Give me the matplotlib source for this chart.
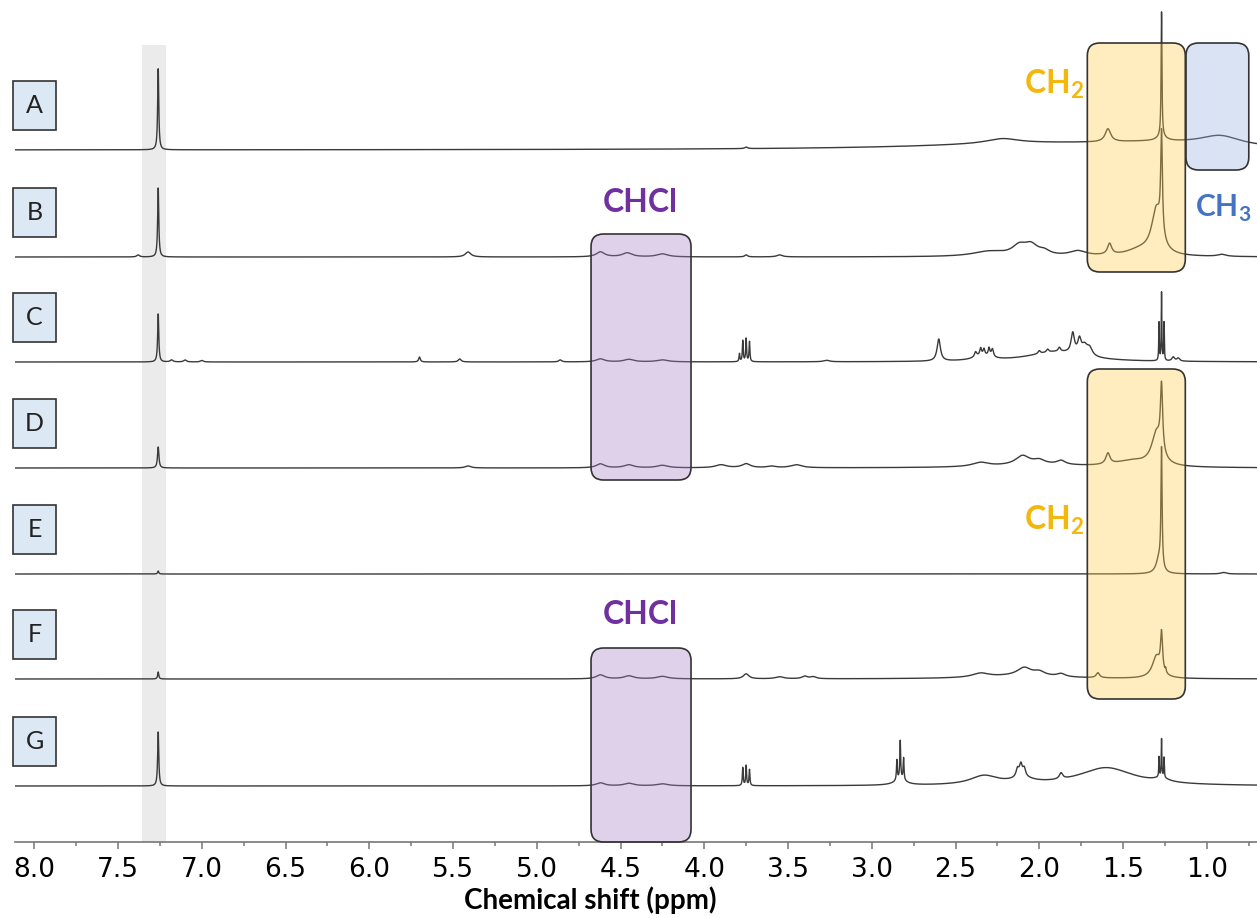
import numpy as np
import matplotlib
matplotlib.use("Agg")
import matplotlib.pyplot as plt
import matplotlib.transforms as mtransforms
from matplotlib.patches import FancyBboxPatch, Rectangle
from matplotlib.ticker import MultipleLocator

plt.rcParams["mathtext.fontset"] = "custom"
plt.rcParams["mathtext.bf"] = "Lato:bold"
plt.rcParams["mathtext.rm"] = "Lato"

# sample labels, top to bottom
samples = ["A", "B", "C", "D", "E", "F", "G"]

# peak lists: (shift ppm, height, half-width ppm)
peaks_A = [(7.26, 81, 0.004), (3.75, 1.5, 0.01), (2.0, 6, 0.9), (2.22, 5, 0.12),
           (1.59, 13, 0.02), (1.27, 124, 0.003), (1.27, 5, 0.03),
           (1.3, 4, 0.4), (0.92, 10, 0.15)]
peaks_B = [(7.26, 69, 0.004), (7.38, 2, 0.01), (5.41, 5, 0.02),
           (4.62, 5, 0.03), (4.46, 4, 0.035), (4.25, 3, 0.04),
           (3.75, 2, 0.01), (3.55, 2, 0.02),
           (2.30, 5, 0.12), (2.12, 9, 0.05), (2.05, 10, 0.05), (1.97, 4, 0.04), (1.77, 5, 0.06),
           (1.58, 11, 0.015), (1.40, 6, 0.1), (1.30, 45, 0.035), (1.27, 100, 0.006),
           (0.91, 2, 0.03)]
peaks_C = [(7.26, 48, 0.004), (7.18, 2, 0.01), (7.10, 2, 0.01), (7.00, 1.5, 0.01),
           (5.70, 5, 0.006), (5.46, 3, 0.01), (4.86, 2, 0.01),
           (4.62, 3, 0.03), (4.45, 2.5, 0.035), (4.25, 2, 0.04),
           (3.79, 8, 0.003), (3.77, 21, 0.003), (3.75, 23, 0.003), (3.73, 20, 0.003),
           (3.27, 1.5, 0.02), (2.60, 22, 0.012),
           (2.34, 5, 0.06), (2.38, 5, 0.008), (2.35, 7, 0.006), (2.33, 6, 0.006),
           (2.30, 8, 0.006), (2.28, 8, 0.008),
           (1.90, 10, 0.2), (2.00, 3, 0.008), (1.95, 3, 0.008), (1.88, 4, 0.008),
           (1.80, 20, 0.012), (1.76, 14, 0.012), (1.73, 9, 0.02), (1.70, 8, 0.02),
           (1.285, 38, 0.002), (1.27, 68, 0.002), (1.255, 38, 0.002),
           (1.20, 4, 0.01), (1.17, 3, 0.01)]
peaks_D = [(7.26, 21, 0.005), (5.41, 2, 0.02),
           (4.62, 4, 0.03), (4.45, 3, 0.035), (4.25, 2.5, 0.04),
           (3.90, 3, 0.04), (3.75, 4, 0.03), (3.60, 1.5, 0.03), (3.45, 3, 0.04),
           (2.0, 3, 0.3), (2.35, 4, 0.06), (2.10, 9, 0.05), (2.00, 4, 0.04), (1.87, 4, 0.03),
           (1.59, 11, 0.015), (1.45, 6, 0.12), (1.30, 32, 0.035), (1.27, 66, 0.008)]
peaks_E = [(7.26, 3, 0.004), (1.285, 15, 0.02), (1.27, 118, 0.004), (0.9, 1.5, 0.02)]
peaks_F = [(7.26, 7, 0.004),
           (4.62, 4, 0.03), (4.45, 3, 0.035), (4.25, 2.5, 0.04),
           (3.75, 5, 0.02), (3.55, 2, 0.03), (3.40, 2.5, 0.02), (3.35, 2, 0.02),
           (2.1, 3, 0.3), (2.35, 4, 0.06), (2.09, 8, 0.05), (2.00, 4, 0.04), (1.87, 3, 0.03),
           (1.65, 5, 0.012), (1.30, 22, 0.03), (1.27, 38, 0.007), (1.245, 4, 0.003)]
peaks_G = [(7.26, 54, 0.004),
           (4.62, 3, 0.03), (4.45, 2.5, 0.035), (4.25, 2, 0.04),
           (3.77, 18, 0.003), (3.75, 20, 0.003), (3.73, 16, 0.003),
           (2.83, 6, 0.04), (2.85, 20, 0.003), (2.83, 38, 0.003), (2.81, 22, 0.003),
           (2.33, 9, 0.1), (2.10, 5, 0.08), (2.13, 8, 0.01), (2.11, 12, 0.01), (2.09, 8, 0.01),
           (1.87, 6, 0.012), (1.60, 18, 0.2),
           (1.27, 4, 0.05), (1.285, 20, 0.002), (1.27, 38, 0.002), (1.255, 20, 0.002)]
spectra = [peaks_A, peaks_B, peaks_C, peaks_D, peaks_E, peaks_F, peaks_G]

# vertical offset of each trace (stack layout)
offsets = [692, 585, 480, 374, 268, 163, 56]

ppm = np.linspace(8.12, 0.70, 20000)


def lorentz(x, pos, height, width):
    return height * width ** 2 / ((x - pos) ** 2 + width ** 2)


def spectrum(peaks):
    y = np.zeros_like(ppm)
    for pos, h, w in peaks:
        y += lorentz(ppm, pos, h, w)
    return y


W, H = 1257, 918
fig = plt.figure(figsize=(W / 100, H / 100), dpi=100)
ax = fig.add_axes([15 / W, (H - 842) / H, (W - 15) / W, 842 / H])
ax.set_xlim(8.115, 0.70)
ax.set_ylim(0, 842)

# CDCl3 band
ax.axvspan(7.212, 7.355, ymin=0, ymax=797 / 842, color="#ebebeb", lw=0, zorder=0)

for peaks, off in zip(spectra, offsets):
    ax.plot(ppm, spectrum(peaks) + off, color="#3a3a3a", lw=1.0, zorder=2)


# rounded highlight box spanning a shift range
def region(x0, x1, y0, y1, rgb):
    box = FancyBboxPatch((x0, y0), x1 - x0, y1 - y0,
                         boxstyle="round,pad=0,rounding_size=0.075",
                         mutation_aspect=167.5,
                         facecolor=rgb + (0.35,), edgecolor="#333333",
                         lw=1.2, zorder=3, clip_on=False)
    ax.add_patch(box)


yellow = (1.0, 0.80, 0.29)
purple = (0.63, 0.49, 0.76)
blue = (0.58, 0.69, 0.87)
region(1.128, 1.713, 570, 799, yellow)
region(1.128, 1.713, 143, 473, yellow)
region(0.749, 1.124, 672, 799, blue)
region(4.079, 4.676, 362, 608, purple)
region(4.079, 4.676, 0, 194, purple)

bold = dict(family=["Lato", "DejaVu Sans"], fontweight="bold", fontsize=23, zorder=4)
ax.text(1.73, 758, "CH$_\\mathbf{2}$", color="#F3B80F", ha="right", va="center", **bold)
ax.text(1.73, 322, "CH$_\\mathbf{2}$", color="#F3B80F", ha="right", va="center", **bold)
ax.text(4.38, 639, "CHCl", color="#7030A0", ha="center", va="center", **bold)
ax.text(4.38, 227, "CHCl", color="#7030A0", ha="center", va="center", **bold)
ax.text(1.07, 634, "CH$_\\mathbf{3}$", color="#4472C4", ha="left", va="center",
        family=["Lato", "DejaVu Sans"], fontweight="bold", fontsize=21.5, zorder=4)

# sample label boxes
blend = mtransforms.blended_transform_factory(ax.transAxes, ax.transData)
for lab, off in zip(samples, offsets):
    ax.add_patch(Rectangle((-0.0016, off + 20), 43 / 1242, 49, transform=blend,
                           facecolor="#dde8f5", edgecolor="#333333", lw=1.2,
                           clip_on=False, zorder=4))
    ax.text(-0.0016 + 21.5 / 1242, off + 44.5, lab, transform=blend,
            ha="center", va="center", fontsize=18,
            family=["Lato", "DejaVu Sans"], color="#222222", zorder=5)

for s in ["left", "right", "top"]:
    ax.spines[s].set_visible(False)
ax.spines["bottom"].set_color("#777777")
ax.spines["bottom"].set_linewidth(1.2)
ax.set_yticks([])
ax.xaxis.set_major_locator(MultipleLocator(0.5))
ax.xaxis.set_minor_locator(MultipleLocator(0.25))
ax.tick_params(axis="x", which="major", direction="out", length=5, width=1.1,
               color="#777777", labelsize=19, pad=6)
ax.tick_params(axis="x", which="minor", direction="out", length=3, width=1.1,
               color="#777777")
ax.xaxis.set_major_formatter(plt.FuncFormatter(lambda v, p: f"{v:.1f}"))

fig.text(590 / W, 1 - 900 / H, "Chemical shift (ppm)", ha="center", va="center",
         fontsize=20, fontweight="bold", family=["Lato", "DejaVu Sans"])

fig.savefig("out.png", dpi=100)
